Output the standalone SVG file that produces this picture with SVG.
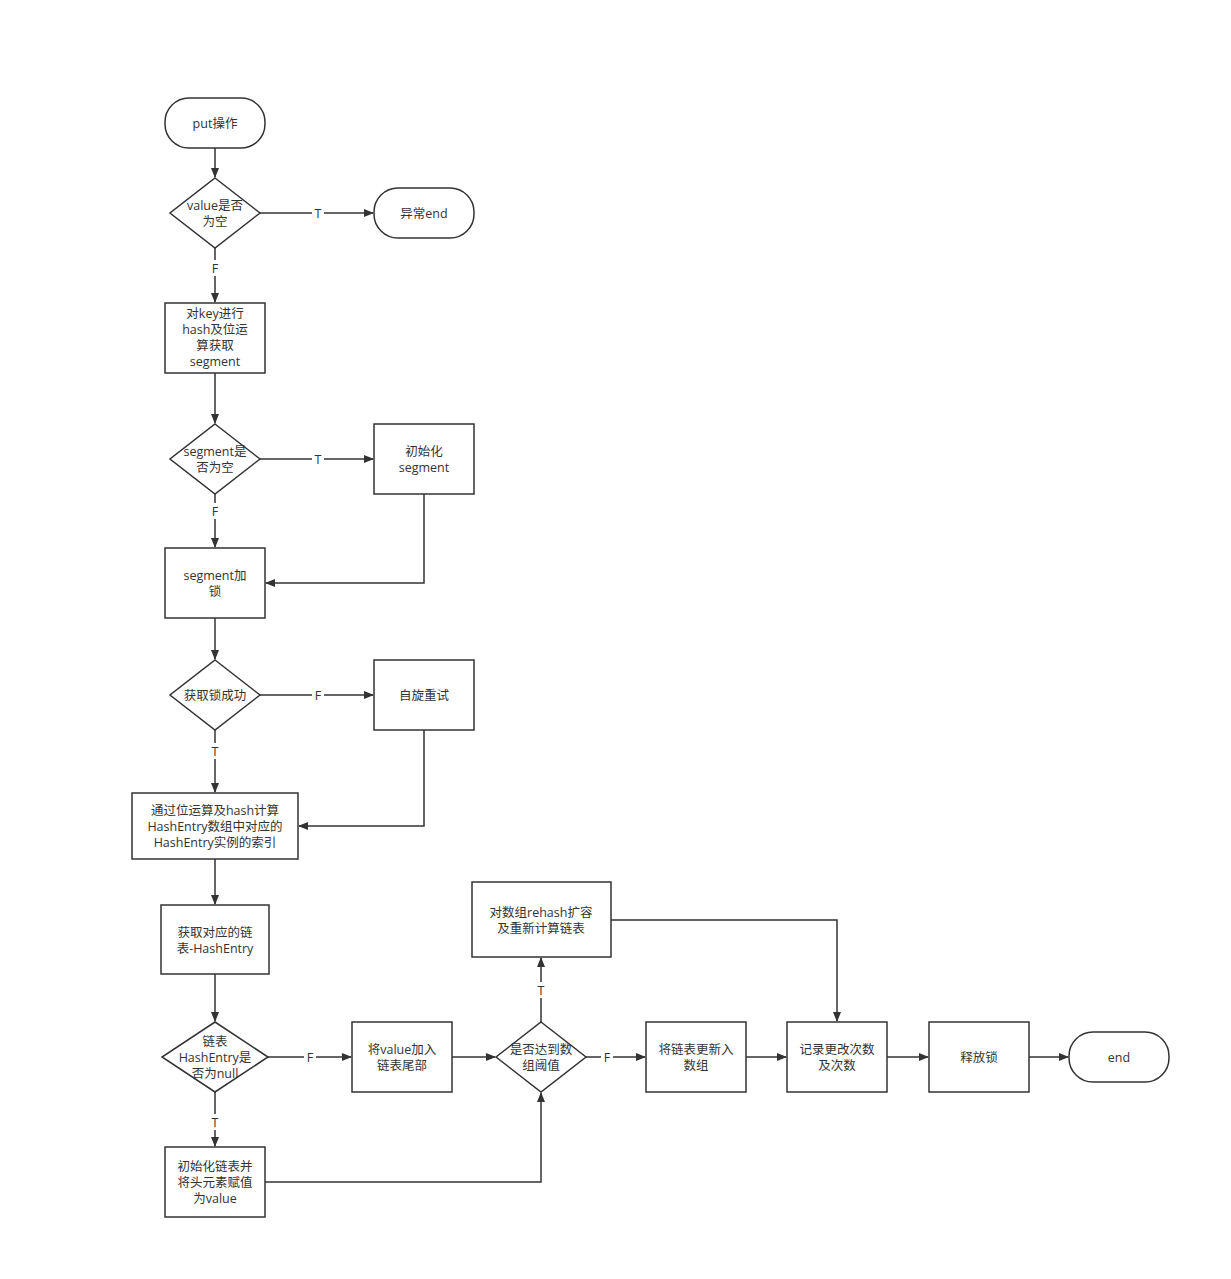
<svg xmlns="http://www.w3.org/2000/svg" width="1231" height="1279" viewBox="0 0 1231 1279">
<style>
.n{fill:#fff;stroke:#333;stroke-width:1.5}
text{font-family:"Open Sans","Noto Sans CJK SC",sans-serif;font-size:12.5px;fill:#333;text-anchor:middle}
.c{fill:none;stroke:#333;stroke-width:1.5;marker-end:url(#a)}
.lb{fill:#fff}
</style>
<defs><marker id="a" markerWidth="10" markerHeight="10" refX="9" refY="5" orient="auto" markerUnits="userSpaceOnUse"><path d="M0,1 L10,5 L0,9 Z" fill="#333"/></marker></defs>
<rect width="1231" height="1279" fill="#fff"/>
<g id="connectors">
<path class="c" d="M215,148V177"/>
<path class="c" d="M260,213H373"/>
<path class="c" d="M215,248V302"/>
<path class="c" d="M215,373V423"/>
<path class="c" d="M260,459H373"/>
<path class="c" d="M215,494V547"/>
<path class="c" d="M424,494V583H266"/>
<path class="c" d="M215,618V659"/>
<path class="c" d="M260,695H373"/>
<path class="c" d="M215,730V792"/>
<path class="c" d="M424,730V826H299"/>
<path class="c" d="M215,859V904"/>
<path class="c" d="M215,974V1021"/>
<path class="c" d="M268,1057H351"/>
<path class="c" d="M215,1092V1146"/>
<path class="c" d="M452,1057H495"/>
<path class="c" d="M265,1182H541V1093"/>
<path class="c" d="M541,1022V958"/>
<path class="c" d="M586,1057H645"/>
<path class="c" d="M611,920H837V1021"/>
<path class="c" d="M746,1057H786"/>
<path class="c" d="M887,1057H928"/>
<path class="c" d="M1029,1057H1068"/>
<g>
<rect class="lb" x="312" y="205" width="12" height="16"/><text x="318" y="218">T</text>
<rect class="lb" x="209" y="260" width="12" height="16"/><text x="215" y="273">F</text>
<rect class="lb" x="312" y="451" width="12" height="16"/><text x="318" y="464">T</text>
<rect class="lb" x="209" y="503" width="12" height="16"/><text x="215" y="516">F</text>
<rect class="lb" x="312" y="687" width="12" height="16"/><text x="318" y="700">F</text>
<rect class="lb" x="209" y="743" width="12" height="16"/><text x="215" y="756">T</text>
<rect class="lb" x="304" y="1049" width="12" height="16"/><text x="310" y="1062">F</text>
<rect class="lb" x="209" y="1114" width="12" height="16"/><text x="215" y="1127">T</text>
<rect class="lb" x="535" y="982" width="12" height="16"/><text x="541" y="995">T</text>
<rect class="lb" x="601" y="1049" width="12" height="16"/><text x="607" y="1062">F</text>
</g>
</g>
<g id="put"><rect class="n" x="165" y="98" width="100" height="50" rx="24"/><text x="215" y="128">put操作</text></g>
<g id="d1"><path class="n" d="M215,178L260,213L215,248L170,213Z"/><text x="215" y="210">value是否</text><text x="215" y="226">为空</text></g>
<g id="err"><rect class="n" x="374" y="188" width="100" height="50" rx="24"/><text x="424" y="218">异常end</text></g>
<g id="hash"><rect class="n" x="165" y="303" width="100" height="70"/><text x="215" y="318">对key进行</text><text x="215" y="334">hash及位运</text><text x="215" y="350">算获取</text><text x="215" y="366">segment</text></g>
<g id="d2"><path class="n" d="M215,424L260,459L215,494L170,459Z"/><text x="215" y="456">segment是</text><text x="215" y="472">否为空</text></g>
<g id="init"><rect class="n" x="374" y="424" width="100" height="70"/><text x="424" y="456">初始化</text><text x="424" y="472">segment</text></g>
<g id="lock"><rect class="n" x="165" y="548" width="100" height="70"/><text x="215" y="580">segment加</text><text x="215" y="596">锁</text></g>
<g id="d3"><path class="n" d="M215,660L260,695L215,730L170,695Z"/><text x="215" y="700">获取锁成功</text></g>
<g id="spin"><rect class="n" x="374" y="660" width="100" height="70"/><text x="424" y="700">自旋重试</text></g>
<g id="idx"><rect class="n" x="132" y="793" width="166" height="66"/><text x="215" y="815">通过位运算及hash计算</text><text x="215" y="831">HashEntry数组中对应的</text><text x="215" y="847">HashEntry实例的索引</text></g>
<g id="list"><rect class="n" x="161" y="905" width="108" height="69"/><text x="215" y="937">获取对应的链</text><text x="215" y="953">表-HashEntry</text></g>
<g id="d4"><path class="n" d="M215,1022L268,1057L215,1092L162,1057Z"/><text x="215" y="1046">链表</text><text x="215" y="1062">HashEntry是</text><text x="215" y="1078">否为null</text></g>
<g id="add"><rect class="n" x="352" y="1022" width="100" height="70"/><text x="402" y="1054">将value加入</text><text x="402" y="1070">链表尾部</text></g>
<g id="initlist"><rect class="n" x="165" y="1147" width="100" height="70"/><text x="215" y="1171">初始化链表并</text><text x="215" y="1187">将头元素赋值</text><text x="215" y="1203">为value</text></g>
<g id="d5"><path class="n" d="M541,1022L586,1057L541,1092L496,1057Z"/><text x="541" y="1054">是否达到数</text><text x="541" y="1070">组阈值</text></g>
<g id="rehash"><rect class="n" x="472" y="882" width="139" height="75"/><text x="541" y="917">对数组rehash扩容</text><text x="541" y="933">及重新计算链表</text></g>
<g id="upd"><rect class="n" x="646" y="1022" width="100" height="70"/><text x="696" y="1054">将链表更新入</text><text x="696" y="1070">数组</text></g>
<g id="rec"><rect class="n" x="787" y="1022" width="100" height="70"/><text x="837" y="1054">记录更改次数</text><text x="837" y="1070">及次数</text></g>
<g id="rel"><rect class="n" x="929" y="1022" width="100" height="70"/><text x="979" y="1062">释放锁</text></g>
<g id="end"><rect class="n" x="1069" y="1032" width="100" height="50" rx="24"/><text x="1119" y="1062">end</text></g>
</svg>
